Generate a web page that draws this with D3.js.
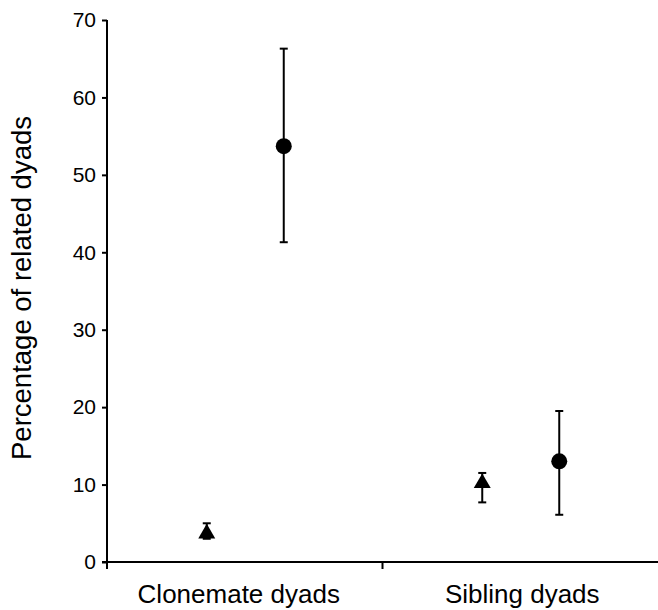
<!DOCTYPE html>
<html>
<head>
<meta charset="utf-8">
<script src="https://cdn.jsdelivr.net/npm/d3@7"></script>
<style>
  body { margin: 0; background: #fff; }
  svg { display: block; font-family: "Liberation Sans", Arial, sans-serif; }
</style>
</head>
<body>
<div id="chart"></div>
<script>
'use strict';

var categories = ["Clonemate dyads", "Sibling dyads"];
var series = ["triangle", "circle"];
// mean, lower, upper per category
var triangleMean  = [4.0, 10.5];
var triangleLower = [3.0, 7.7];
var triangleUpper = [5.0, 11.5];
var circleMean  = [53.7, 13.0];
var circleLower = [41.3, 6.1];
var circleUpper = [66.3, 19.5];
var yTicks = [0, 10, 20, 30, 40, 50, 60, 70];

var width = 658, height = 610;
var margin = {top: 20, right: 0, bottom: 48, left: 107};

var svg = d3.select("#chart").append("svg")
  .attr("width", width)
  .attr("height", height);

var x = d3.scaleBand()
  .domain(categories)
  .range([margin.left, width - margin.right]);

var xs = d3.scalePoint()
  .domain(series)
  .range([-38, 39]);

var y = d3.scaleLinear()
  .domain([0, 70])
  .range([height - margin.bottom, margin.top]);

var points = [];
categories.forEach(function(c, i) {
  points.push({cat: c, s: "triangle", v: triangleMean[i], lo: triangleLower[i], hi: triangleUpper[i]});
  points.push({cat: c, s: "circle", v: circleMean[i], lo: circleLower[i], hi: circleUpper[i]});
});

// y axis
var yAxis = svg.append("g")
  .attr("transform", "translate(" + margin.left + ",0)")
  .call(d3.axisLeft(y).tickValues(yTicks).tickSize(5).tickPadding(6).tickSizeOuter(0));
yAxis.select(".domain").attr("stroke-width", 2)
  .attr("d", "M0," + (y(0) + 7) + "V" + y(70));
yAxis.selectAll(".tick line").attr("stroke-width", 2);
yAxis.selectAll(".tick text").attr("font-size", 21).attr("fill", "#000");

// x axis: ticks between categories
var xAxis = svg.append("g")
  .attr("transform", "translate(0," + y(0) + ")");
xAxis.append("line")
  .attr("x1", margin.left - 5).attr("x2", width)
  .attr("stroke", "#000").attr("stroke-width", 2);
xAxis.selectAll(".sep")
  .data(categories.slice(1))
  .enter().append("line")
  .attr("x1", function(d) { return x(d); })
  .attr("x2", function(d) { return x(d); })
  .attr("y1", 0).attr("y2", 7)
  .attr("stroke", "#000").attr("stroke-width", 2);
xAxis.selectAll(".lab")
  .data(categories)
  .enter().append("text")
  .attr("x", function(d, i) { return x(d) + x.bandwidth() / 2 + (i === 0 ? -6 : 2); })
  .attr("y", 41)
  .attr("text-anchor", "middle")
  .attr("font-size", 26)
  .text(function(d) { return d; });

// y label
svg.append("text")
  .attr("transform", "translate(31,288) rotate(-90)")
  .attr("text-anchor", "middle")
  .attr("font-size", 27.5)
  .text("Percentage of related dyads");

function px(d) { return x(d.cat) + x.bandwidth() / 2 + xs(d.s); }

// error bars
var eb = svg.selectAll(".err").data(points).enter().append("g");
eb.append("line")
  .attr("x1", px).attr("x2", px)
  .attr("y1", function(d) { return y(d.lo); })
  .attr("y2", function(d) { return y(d.hi); })
  .attr("stroke", "#000").attr("stroke-width", 2);
[["lo"], ["hi"]].forEach(function(k) {
  eb.append("line")
    .attr("x1", function(d) { return px(d) - 4; })
    .attr("x2", function(d) { return px(d) + 4; })
    .attr("y1", function(d) { return y(d[k[0]]); })
    .attr("y2", function(d) { return y(d[k[0]]); })
    .attr("stroke", "#000").attr("stroke-width", 2);
});

// markers
var tri = d3.symbol(d3.symbolTriangle, 125);
svg.selectAll(".tri")
  .data(points.filter(function(d) { return d.s === "triangle"; }))
  .enter().append("path")
  .attr("d", tri)
  .attr("transform", function(d) { return "translate(" + px(d) + "," + (y(d.v) + 2.5) + ")"; })
  .attr("fill", "#000");

svg.selectAll(".dot")
  .data(points.filter(function(d) { return d.s === "circle"; }))
  .enter().append("circle")
  .attr("cx", px)
  .attr("cy", function(d) { return y(d.v); })
  .attr("r", 8)
  .attr("fill", "#000");
</script>
</body>
</html>
